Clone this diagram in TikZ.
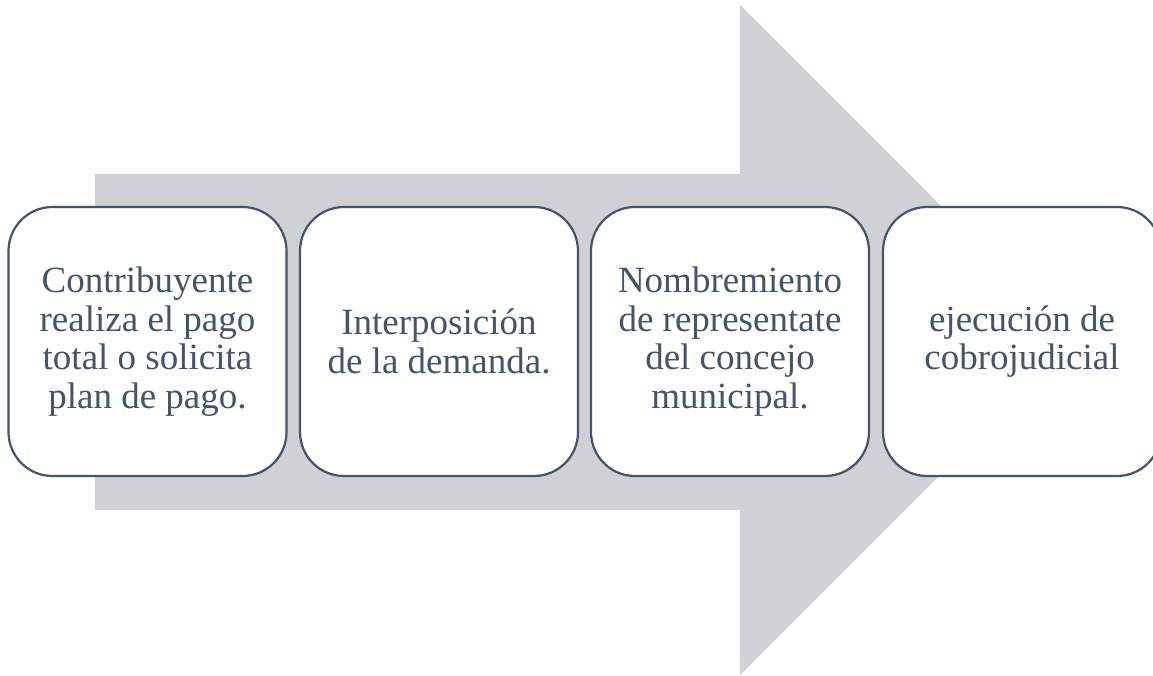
\documentclass[tikz,border=0pt]{standalone}
\usepackage{fontspec}
\setmainfont{Liberation Serif}
\definecolor{texte}{HTML}{44546A}
\definecolor{fleche}{RGB}{208,209,213}
\begin{document}
\begin{tikzpicture}[x=1pt,y=-1pt]
\tikzset{etape/.style={draw=texte, line width=2.2pt, fill=white, rounded corners=44pt, minimum width=278pt, minimum height=269pt, inner sep=0pt, align=center, text=texte, font=\fontsize{37}{38.5}\selectfont}}
\useasboundingbox (0,0) rectangle (1153,675);
\fill[fleche] (95,174) -- (740,174) -- (740,5) -- (1075,340) -- (740,675) -- (740,510) -- (95,510) -- cycle;
\node[etape] (E1) at (147.5,341.5) {Contribuyente\\realiza el pago\\total o solicita\\plan de pago.};
\node[etape] (E2) at (439,341.5) {Interposición\\de la demanda.};
\node[etape] (E3) at (730,341.5) {Nombremiento\\de representate\\del concejo\\municipal.};
\node[etape] (E4) at (1022,341.5) {ejecución de\\cobrojudicial};
\end{tikzpicture}
\end{document}
